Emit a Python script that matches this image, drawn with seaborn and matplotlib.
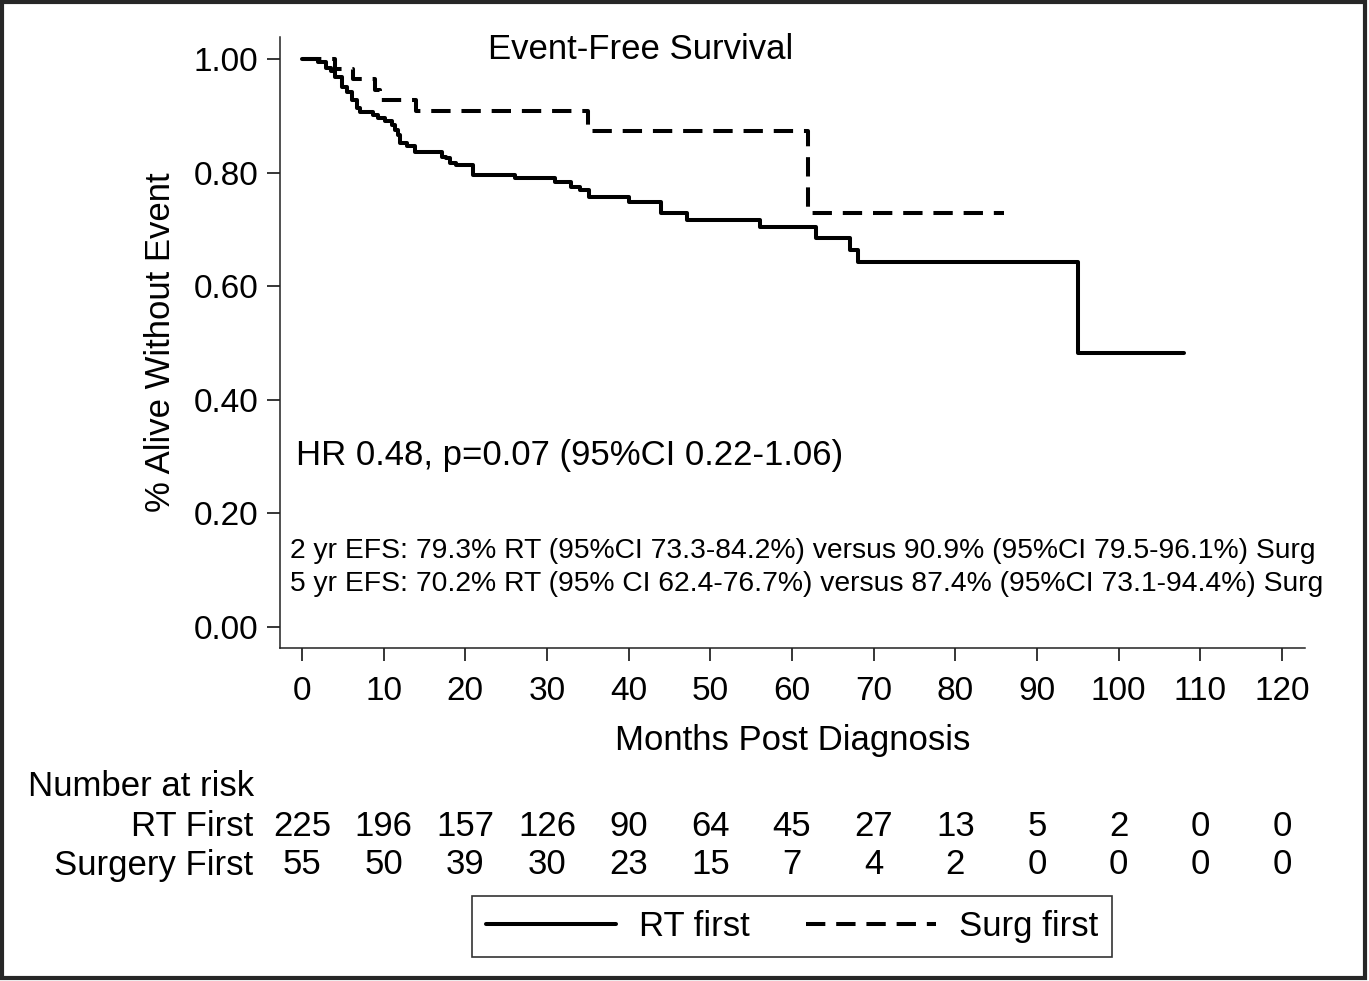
import numpy as np
import pandas as pd
import seaborn as sns
import matplotlib.pyplot as plt
from matplotlib.lines import Line2D
from matplotlib.patches import Rectangle
import matplotlib.transforms as mtransforms

# Kaplan-Meier steps
rt_months = [0, 2.0, 3.0, 3.5, 4.0, 4.9, 5.5, 6.1, 6.7, 7.1, 8.7, 9.3, 10.2, 11.0, 11.4,
             11.7, 12.0, 12.8, 13.8, 17.1, 17.6, 18.1, 18.9, 21.0, 26.1, 31.0, 33.0, 34.0,
             35.1, 40.1, 44.0, 47.1, 56.1, 63.0, 67.1, 68.1, 95.0, 108.0]
rt_efs = [1.0, 0.995, 0.984, 0.978, 0.969, 0.951, 0.942, 0.928, 0.913, 0.907, 0.901, 0.896,
          0.890, 0.884, 0.875, 0.866, 0.852, 0.846, 0.837, 0.828, 0.825, 0.817, 0.813, 0.796,
          0.790, 0.783, 0.775, 0.769, 0.757, 0.748, 0.728, 0.717, 0.705, 0.684, 0.664, 0.643,
          0.482, 0.482]
surg_months = [0, 4.0, 6.2, 8.9, 9.5, 14.0, 35.0, 62.0, 86.0]
surg_efs = [1.0, 0.982, 0.964, 0.945, 0.927, 0.909, 0.874, 0.728, 0.728]

risk_times = [0, 10, 20, 30, 40, 50, 60, 70, 80, 90, 100, 110, 120]
risk_rt = [225, 196, 157, 126, 90, 64, 45, 27, 13, 5, 2, 0, 0]
risk_surg = [55, 50, 39, 30, 23, 15, 7, 4, 2, 0, 0, 0, 0]

y_ticks = [0.0, 0.2, 0.4, 0.6, 0.8, 1.0]
x_ticks = list(range(0, 121, 10))

df = pd.concat([
    pd.DataFrame({'Months': rt_months, 'EFS': rt_efs, 'Group': 'RT first'}),
    pd.DataFrame({'Months': surg_months, 'EFS': surg_efs, 'Group': 'Surg first'}),
], ignore_index=True)

sns.set_theme(style='ticks')
plt.rcParams['font.family'] = ['Liberation Sans', 'DejaVu Sans']
plt.rcParams['text.color'] = 'black'
plt.rcParams['axes.labelcolor'] = 'black'

W, H = 1369, 981
fig = plt.figure(figsize=(W / 100, H / 100), dpi=100)
fig.patch.set_facecolor('white')
ax = fig.add_axes([280 / W, 1 - 648 / H, (1305 - 280) / W, (648 - 37) / H])

lw = 2.9
dash = (4.8, 2.7)
sns.lineplot(data=df, x='Months', y='EFS', hue='Group', style='Group',
             palette={'RT first': 'black', 'Surg first': 'black'},
             dashes={'RT first': '', 'Surg first': dash},
             estimator=None, drawstyle='steps-post', linewidth=lw,
             legend=False, ax=ax)

ax.set_xlim(-2.69, 122.82)
ax.set_ylim(-0.037, 1.0387)
ax.set_xticks(x_ticks)
ax.set_yticks(y_ticks)
ax.set_yticklabels([f'{v:.2f}' for v in y_ticks])
ax.set_xlabel('Months Post Diagnosis', fontsize=25, labelpad=12)
ax.set_ylabel('% Alive Without Event', fontsize=25, labelpad=12)
ax.tick_params(axis='both', direction='out', length=9.4, width=1.1,
               labelsize=24, colors='black')
ax.tick_params(axis='x', pad=11)
ax.tick_params(axis='y', pad=6)
sns.despine(ax=ax)
for s in ['left', 'bottom']:
    ax.spines[s].set_linewidth(1.1)
    ax.spines[s].set_color('#222222')
ax.set_facecolor('white')

fig.text(641 / W, 1 - 50 / H, 'Event-Free Survival', fontsize=25,
         ha='center', va='center')
fig.text(296 / W, 1 - 456 / H, 'HR 0.48, p=0.07 (95%CI 0.22-1.06)', fontsize=25,
         ha='left', va='center')
fig.text(290 / W, 1 - 551 / H,
         '2 yr EFS: 79.3% RT (95%CI 73.3-84.2%) versus 90.9% (95%CI 79.5-96.1%) Surg',
         fontsize=20.3, ha='left', va='center')
fig.text(290 / W, 1 - 584 / H,
         '5 yr EFS: 70.2% RT (95% CI 62.4-76.7%) versus 87.4% (95%CI 73.1-94.4%) Surg',
         fontsize=20.3, ha='left', va='center')

# number at risk table
trans = mtransforms.blended_transform_factory(ax.transData, fig.transFigure)
fig.text(28 / W, 1 - 787 / H, 'Number at risk', fontsize=25, ha='left', va='center')
fig.text(253 / W, 1 - 827 / H, 'RT First', fontsize=25, ha='right', va='center')
fig.text(253 / W, 1 - 865 / H, 'Surgery First', fontsize=25, ha='right', va='center')
for t, a, b in zip(risk_times, risk_rt, risk_surg):
    ax.text(t, 1 - 827 / H, str(a), transform=trans, fontsize=25,
            ha='center', va='center', clip_on=False)
    ax.text(t, 1 - 865 / H, str(b), transform=trans, fontsize=25,
            ha='center', va='center', clip_on=False)

handles = [Line2D([0], [0], color='black', lw=lw),
           Line2D([0], [0], color='black', lw=lw, linestyle=(0, dash))]
leg = fig.legend(handles, ['RT first', 'Surg first'], loc='center',
                 bbox_to_anchor=(792 / W, 1 - 926.5 / H), ncol=2, fontsize=25,
                 frameon=True, fancybox=False, edgecolor='black',
                 handlelength=3.75, handletextpad=0.66, columnspacing=1.6,
                 borderpad=0.4)
leg.get_frame().set_linewidth(1.2)

# outer frame
fig.patches.append(Rectangle((1.5 / W, 3 / H), (1365 - 1.5) / W, (979 - 3) / H,
                             transform=fig.transFigure, fill=False,
                             edgecolor='#262626', linewidth=3))

fig.savefig('out.png', dpi=100)
